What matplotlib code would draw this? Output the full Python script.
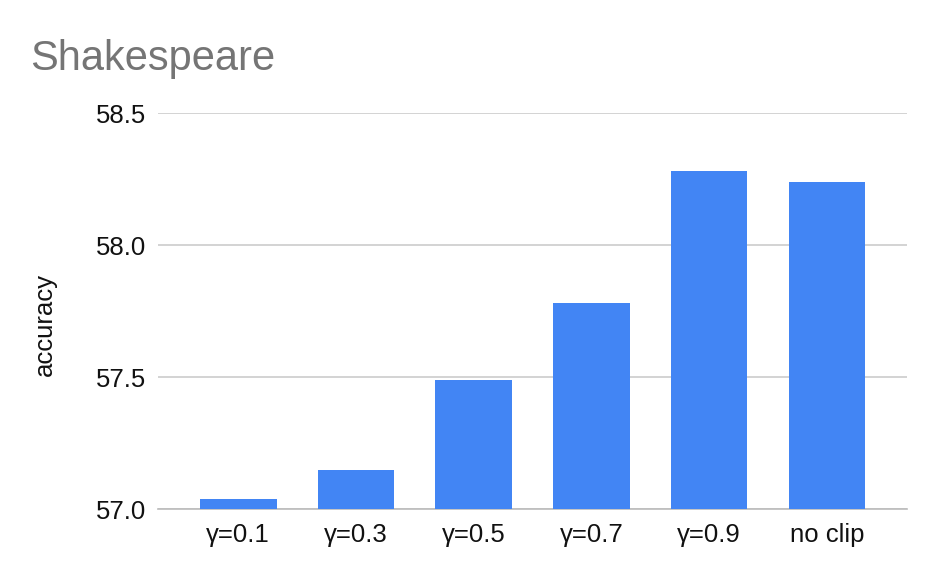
import matplotlib
matplotlib.use('Agg')
import matplotlib.pyplot as plt
import numpy as np

plt.rcParams['font.family'] = ['Liberation Sans', 'DejaVu Sans']

labels = ['γ=0.1', 'γ=0.3', 'γ=0.5', 'γ=0.7', 'γ=0.9', 'no clip']
accuracy = [57.04, 57.15, 57.49, 57.78, 58.28, 58.24]
yticks = [57.0, 57.5, 58.0, 58.5]

fig = plt.figure(figsize=(9.36, 5.8), dpi=100)
ax = fig.add_axes([0.169, 0.122, 0.8, 0.683])

x = np.arange(len(labels))
ax.bar(x, np.array(accuracy) - 57.0, bottom=57.0, width=0.65, color='#4285F4', zorder=3)

ax.set_ylim(57.0, 58.5)
ax.set_xlim(-0.68, 5.68)
ax.set_yticks(yticks)
ax.set_yticklabels(['%.1f' % v for v in yticks])
ax.set_xticks(x)
ax.set_xticklabels(labels)
ax.tick_params(axis='both', length=0, labelsize=18.5, colors='#111111')
ax.tick_params(axis='y', pad=9)
ax.tick_params(axis='x', pad=10)
ax.grid(True, axis='y', color='#cccccc', linewidth=1.2, zorder=0)
for s in ['top', 'right', 'left']:
    ax.spines[s].set_visible(False)
ax.spines['bottom'].set_color('#bbbbbb')
ax.spines['bottom'].set_linewidth(1.2)

fig.text(0.048, 0.44, 'accuracy', fontsize=18.5, color='#111111', rotation=90,
         ha='center', va='center')
fig.text(0.032, 0.879, 'Shakespeare', fontsize=30, color='#757575', ha='left', va='baseline')

plt.savefig('out.png', dpi=100)
